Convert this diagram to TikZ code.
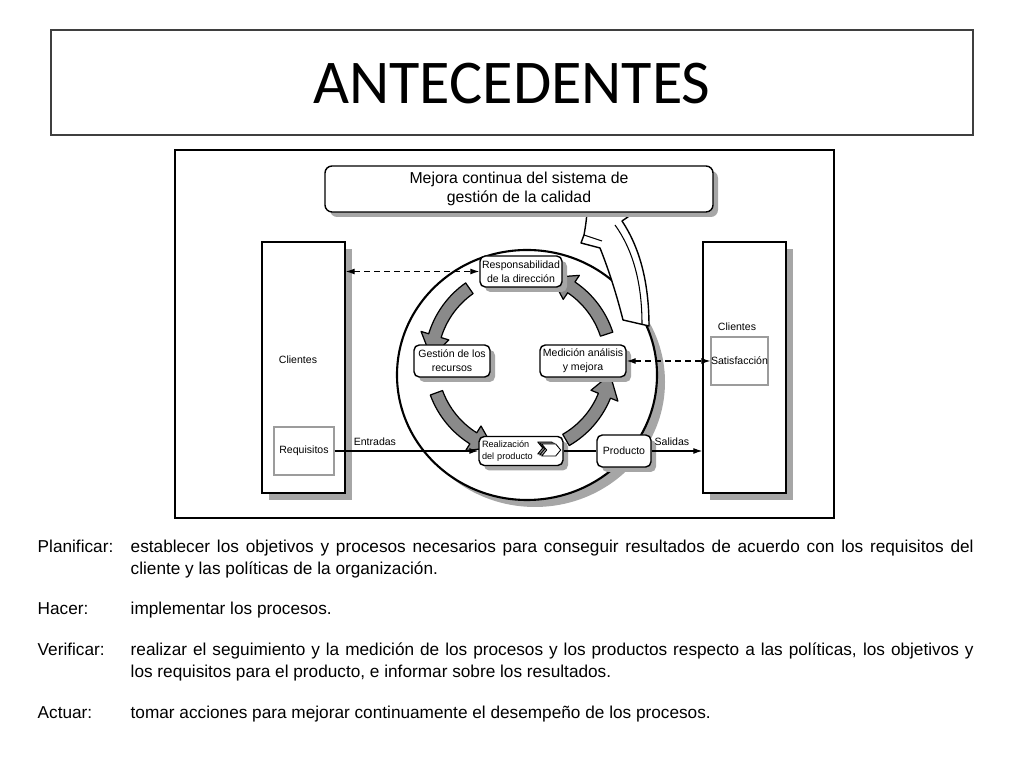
\documentclass[tikz,border=0pt]{standalone}
\usepackage{fontspec}
\setmainfont{Liberation Sans}
\newfontfamily\titlefont{Carlito}
\usetikzlibrary{arrows.meta,shadows,calc}
\definecolor{ISOShadow}{HTML}{A6A6A6}
\definecolor{ISOArrow}{HTML}{8A8A8A}
\definecolor{ISOFrame}{HTML}{3F3F3F}
\definecolor{ISOLight}{HTML}{9C9C9C}

\begin{document}
\begin{tikzpicture}[x=1cm,y=1cm,
  box/.style={draw,rounded corners=1.5pt,fill=white,align=center,inner sep=0pt,line width=0.4pt,
    font=\fontsize{3}{4}\selectfont,
    drop shadow={shadow xshift=0.05cm,shadow yshift=-0.05cm,fill=ISOShadow,opacity=1}},
  client/.style={draw,fill=white,inner sep=0pt,minimum width=0.83cm,minimum height=2.51cm,
    drop shadow={shadow xshift=0.07cm,shadow yshift=-0.07cm,fill=ISOShadow,opacity=1}},
  inbox/.style={draw=ISOLight,fill=white,inner sep=0pt,minimum width=0.60cm,minimum height=0.48cm,
    font=\fontsize{3}{4}\selectfont},
  lbl/.style={inner sep=0pt,font=\fontsize{3}{4}\selectfont},
  flow/.style={-{Latex[length=0.9mm,width=0.6mm]},line width=0.3pt},
  fb/.style={{Latex[length=0.9mm,width=0.6mm]}-{Latex[length=0.9mm,width=0.6mm]},line width=0.3pt,
    dash pattern=on 0.6mm off 0.4mm},
  cyc/.style={draw,fill=ISOArrow,line width=0.35pt,line join=round},
  txt/.style={anchor=base west,inner sep=0pt,font=\fontsize{4.9}{5.9}\selectfont}]
\path[use as bounding box] (0,0) rectangle (10.24,7.68);
% title
\draw[ISOFrame,line width=0.5pt] (0.51,7.38) rectangle (9.73,6.33);
\node[font=\titlefont\fontsize{17.7}{20}\selectfont] (title) at (5.12,6.845) {ANTECEDENTES};
% diagram frame
\draw[line width=0.4pt] (1.75,6.18) rectangle (8.34,2.50);
% process circle
\fill[ISOShadow] (5.35,3.86) ellipse (1.30 and 1.25);
\draw[fill=white,line width=0.6pt] (5.27,3.93) ellipse (1.30 and 1.25);
\foreach \a/\b in {125/163,200/238,300/338,18/56}
  \path[cyc,shift={(5.21,4.06)}] (\a:0.965) arc[start angle=\a,end angle=\b,radius=0.965]
    -- (\b:1.045) -- ({\b+14}:0.90) -- (\b:0.755) -- (\b:0.835)
    arc[start angle=\b,end angle=\a,radius=0.835] -- cycle;
% improvement arrow
\draw[fill=white,line width=0.4pt,line join=round] (6.23,4.48) .. controls (6.15,4.80) and (6.06,5.05) .. (6.00,5.20)
  -- (5.81,5.25) -- (5.84,5.33) .. controls (5.86,5.44) and (5.87,5.52) .. (5.87,5.61)
  -- (6.41,5.60) -- (6.22,5.47) .. controls (6.40,5.20) and (6.49,4.85) .. (6.49,4.42) -- cycle;
\draw[line width=0.3pt] (6.15,5.43) .. controls (6.33,5.18) and (6.42,4.85) .. (6.42,4.44);
\draw[line width=0.3pt] (5.84,5.33) -- (6.02,5.27);
\node[box,font=\fontsize{4.5}{5.4}\selectfont,minimum width=3.88cm,minimum height=0.46cm,rounded corners=2pt] (goal) at (5.19,5.79) {Mejora continua del sistema de\\gestión de la calidad};
% clients
\node[client] (cliL) at (3.035,4.005) {};
\node[client] (cliR) at (7.445,4.005) {};
\node[lbl] (cliLtxt) at (2.98,4.08) {Clientes};
\node[lbl] (cliRtxt) at (7.37,4.41) {Clientes};
\node[inbox] (req) at (3.04,3.17) {Requisitos};
\node[inbox,minimum width=0.55cm] (sat) at (7.395,4.07) {Satisfacción};
% processes
\node[box,minimum width=0.82cm,minimum height=0.31cm] (resp) at (5.21,4.965) {Responsabilidad\\de la dirección};
\node[box,minimum width=0.76cm,minimum height=0.32cm] (gest) at (4.52,4.07) {Gestión de los\\recursos};
\node[box,minimum width=0.86cm,minimum height=0.32cm] (med) at (5.83,4.07) {Medición análisis\\y mejora};
\node[box,minimum width=0.84cm,minimum height=0.29cm,text width=0.78cm,align=left,font=\fontsize{2.6}{3.6}\selectfont] (real) at (5.21,3.17) {Realización\\del producto};
\node[box,minimum width=0.54cm,minimum height=0.32cm] (prod) at (6.24,3.17) {Producto};
\foreach \d/\c in {0.04/ISOArrow,0.02/ISOShadow,0/white}
  \draw[fill=\c,line width=0.25pt,line join=round,shift={($(real.east)+(-0.22-\d,0.01+\d/2)$)}]
    (0,0.06) -- (0.14,0.06) -- (0.19,0) -- (0.14,-0.06) -- (0,-0.06) -- (0.05,0) -- cycle;
% links
\draw[fb] (cliL.east |- resp.west) -- (resp.west);
\draw[fb] (med.east) -- (sat.west);
\draw[flow] (req.east) -- node[lbl,above=1.5pt,pos=0.28] (entr) {Entradas} (real.west);
\draw[line width=0.3pt] (real.east) -- (prod.west);
\draw[flow] (prod.east) -- node[lbl,above=1.5pt,pos=0.4] (sal) {Salidas} (cliR.west |- prod.east);
% PHVA text
\node[txt] (planL) at (0.37,2.15) {Planificar:};
\node[txt] (plan1) at (1.30,2.15) {\makebox[8.43cm][s]{establecer los objetivos y procesos necesarios para conseguir resultados de acuerdo con los requisitos del}};
\node[txt] (plan2) at (1.30,1.93) {cliente y las políticas de la organización.};
\node[txt] (hacL) at (0.37,1.53) {Hacer:};
\node[txt] (hac1) at (1.30,1.53) {implementar los procesos.};
\node[txt] (verL) at (0.37,1.12) {Verificar:};
\node[txt] (ver1) at (1.30,1.12) {\makebox[8.43cm][s]{realizar el seguimiento y la medición de los procesos y los productos respecto a las políticas, los objetivos y}};
\node[txt] (ver2) at (1.30,0.90) {los requisitos para el producto, e informar sobre los resultados.};
\node[txt] (actL) at (0.37,0.49) {Actuar:};
\node[txt] (act1) at (1.30,0.49) {tomar acciones para mejorar continuamente el desempeño de los procesos.};
\end{tikzpicture}
\end{document}
